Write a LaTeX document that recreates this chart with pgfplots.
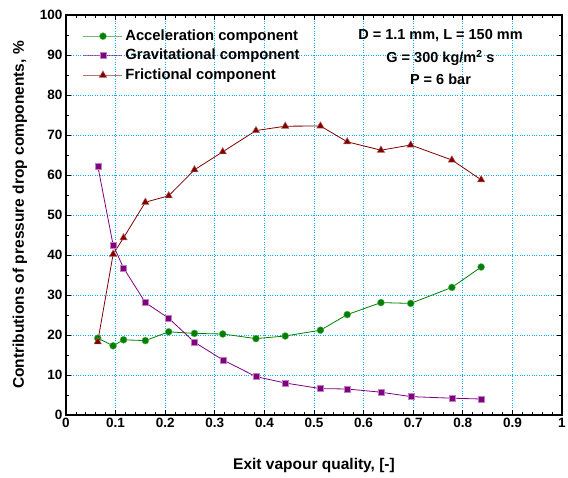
\documentclass[border=0pt]{standalone}
\usepackage{pgfplots}
\pgfplotsset{compat=1.18}
\usepackage{fontspec}
\setmainfont{Liberation Sans}
\usetikzlibrary{calc}
\definecolor{accg}{RGB}{0,128,0}
\definecolor{gravp}{RGB}{128,0,128}
\definecolor{fricr}{RGB}{128,0,0}
\begin{document}
\begin{tikzpicture}
\begin{axis}[name=ax, scale only axis, width=496pt, height=400pt,
  xmin=0, xmax=1, ymin=0, ymax=100,
  xtick={0,0.1,0.2,0.3,0.4,0.5,0.6,0.7,0.8,0.9,1},
  xticklabels={0,0.1,0.2,0.3,0.4,0.5,0.6,0.7,0.8,0.9,1},
  ytick={0,10,...,100},
  minor x tick num=4, minor y tick num=1,
  tick align=inside, major tick length=5pt, minor tick length=3pt,
  xtick pos=both, ytick pos=both,
  grid=major, major grid style={cyan, dotted, line width=0.7pt},
  axis line style={line width=1.6pt},
  every tick/.style={black, line width=0.7pt},
  /pgf/number format/assume math mode=true,
  tick label style={font=\fontsize{13.5}{15}\selectfont\bfseries},
  label style={font=\fontsize{15.5}{18}\selectfont\bfseries},
  xlabel={Exit vapour quality, [-]},
  ylabel={Contributions of pressure drop components, \%},
  xlabel style={at={(axis description cs:0.5,-0.125)}, anchor=center},
  ylabel style={at={(axis description cs:-0.093,0.5)}, anchor=center},
  legend style={draw=none, fill=none, at={(0.034,0.965)}, anchor=north west,
    font=\fontsize{14.8}{17}\selectfont\bfseries, row sep=5.5pt, inner sep=0pt,
    nodes={inner sep=0pt, text height=11pt, text depth=3pt}},
  legend cell align=left,
  legend image code/.code={\draw[opacity=0.55, mark=none] (0pt,0pt)--(39pt,0pt); \draw plot coordinates {(19.5pt,0pt)};},
]
\addplot[accg, line width=0.8pt, mark=*, mark size=3.5pt, mark options={fill=accg, draw=accg!60!white, line width=0.4pt}] coordinates {
(0.064,19.2)(0.095,17.3)(0.116,18.8)(0.160,18.6)(0.207,20.8)(0.259,20.4)(0.316,20.25)(0.383,19.1)(0.442,19.75)(0.513,21.2)(0.567,25.1)(0.635,28.1)(0.695,27.9)(0.778,31.9)(0.837,37.0)};
\addlegendentry{\,Acceleration component}
\addplot[gravp, line width=0.8pt, mark=square*, mark size=3pt, mark options={fill=gravp, draw=gravp!50!white, line width=0.4pt}] coordinates {
(0.064,62.3)(0.095,42.5)(0.116,36.75)(0.160,28.1)(0.207,24.2)(0.259,18.2)(0.316,13.8)(0.383,9.6)(0.442,8.0)(0.513,6.6)(0.567,6.5)(0.635,5.7)(0.695,4.6)(0.778,4.2)(0.837,4.0)};
\addlegendentry{\,Gravitational component}
\addplot[fricr, line width=0.8pt, mark=triangle*, mark size=4.3pt, mark options={fill=fricr, draw=fricr!60!white, line width=0.4pt}] coordinates {
(0.064,18.3)(0.095,40.2)(0.116,44.3)(0.160,53.2)(0.207,54.8)(0.259,61.3)(0.316,65.8)(0.383,71.1)(0.442,72.2)(0.513,72.25)(0.567,68.3)(0.635,66.2)(0.695,67.5)(0.778,63.75)(0.837,58.8)};
\addlegendentry{\,Frictional component}
\node[font=\fontsize{14.5}{17}\selectfont\bfseries] at (axis description cs:0.755,0.9475) {D = 1.1 mm, L = 150 mm};
\node[font=\fontsize{14.5}{17}\selectfont\bfseries] at (axis description cs:0.755,0.892) {G = 300 kg/m\textsuperscript{2} s};
\node[font=\fontsize{14.5}{17}\selectfont\bfseries] at (axis description cs:0.755,0.84) {P = 6 bar};
\end{axis}
\pgfresetboundingbox
\path ($(ax.south west)+(-66pt,-62pt)$) rectangle ($(ax.north east)+(6pt,15pt)$);
\end{tikzpicture}
\end{document}
